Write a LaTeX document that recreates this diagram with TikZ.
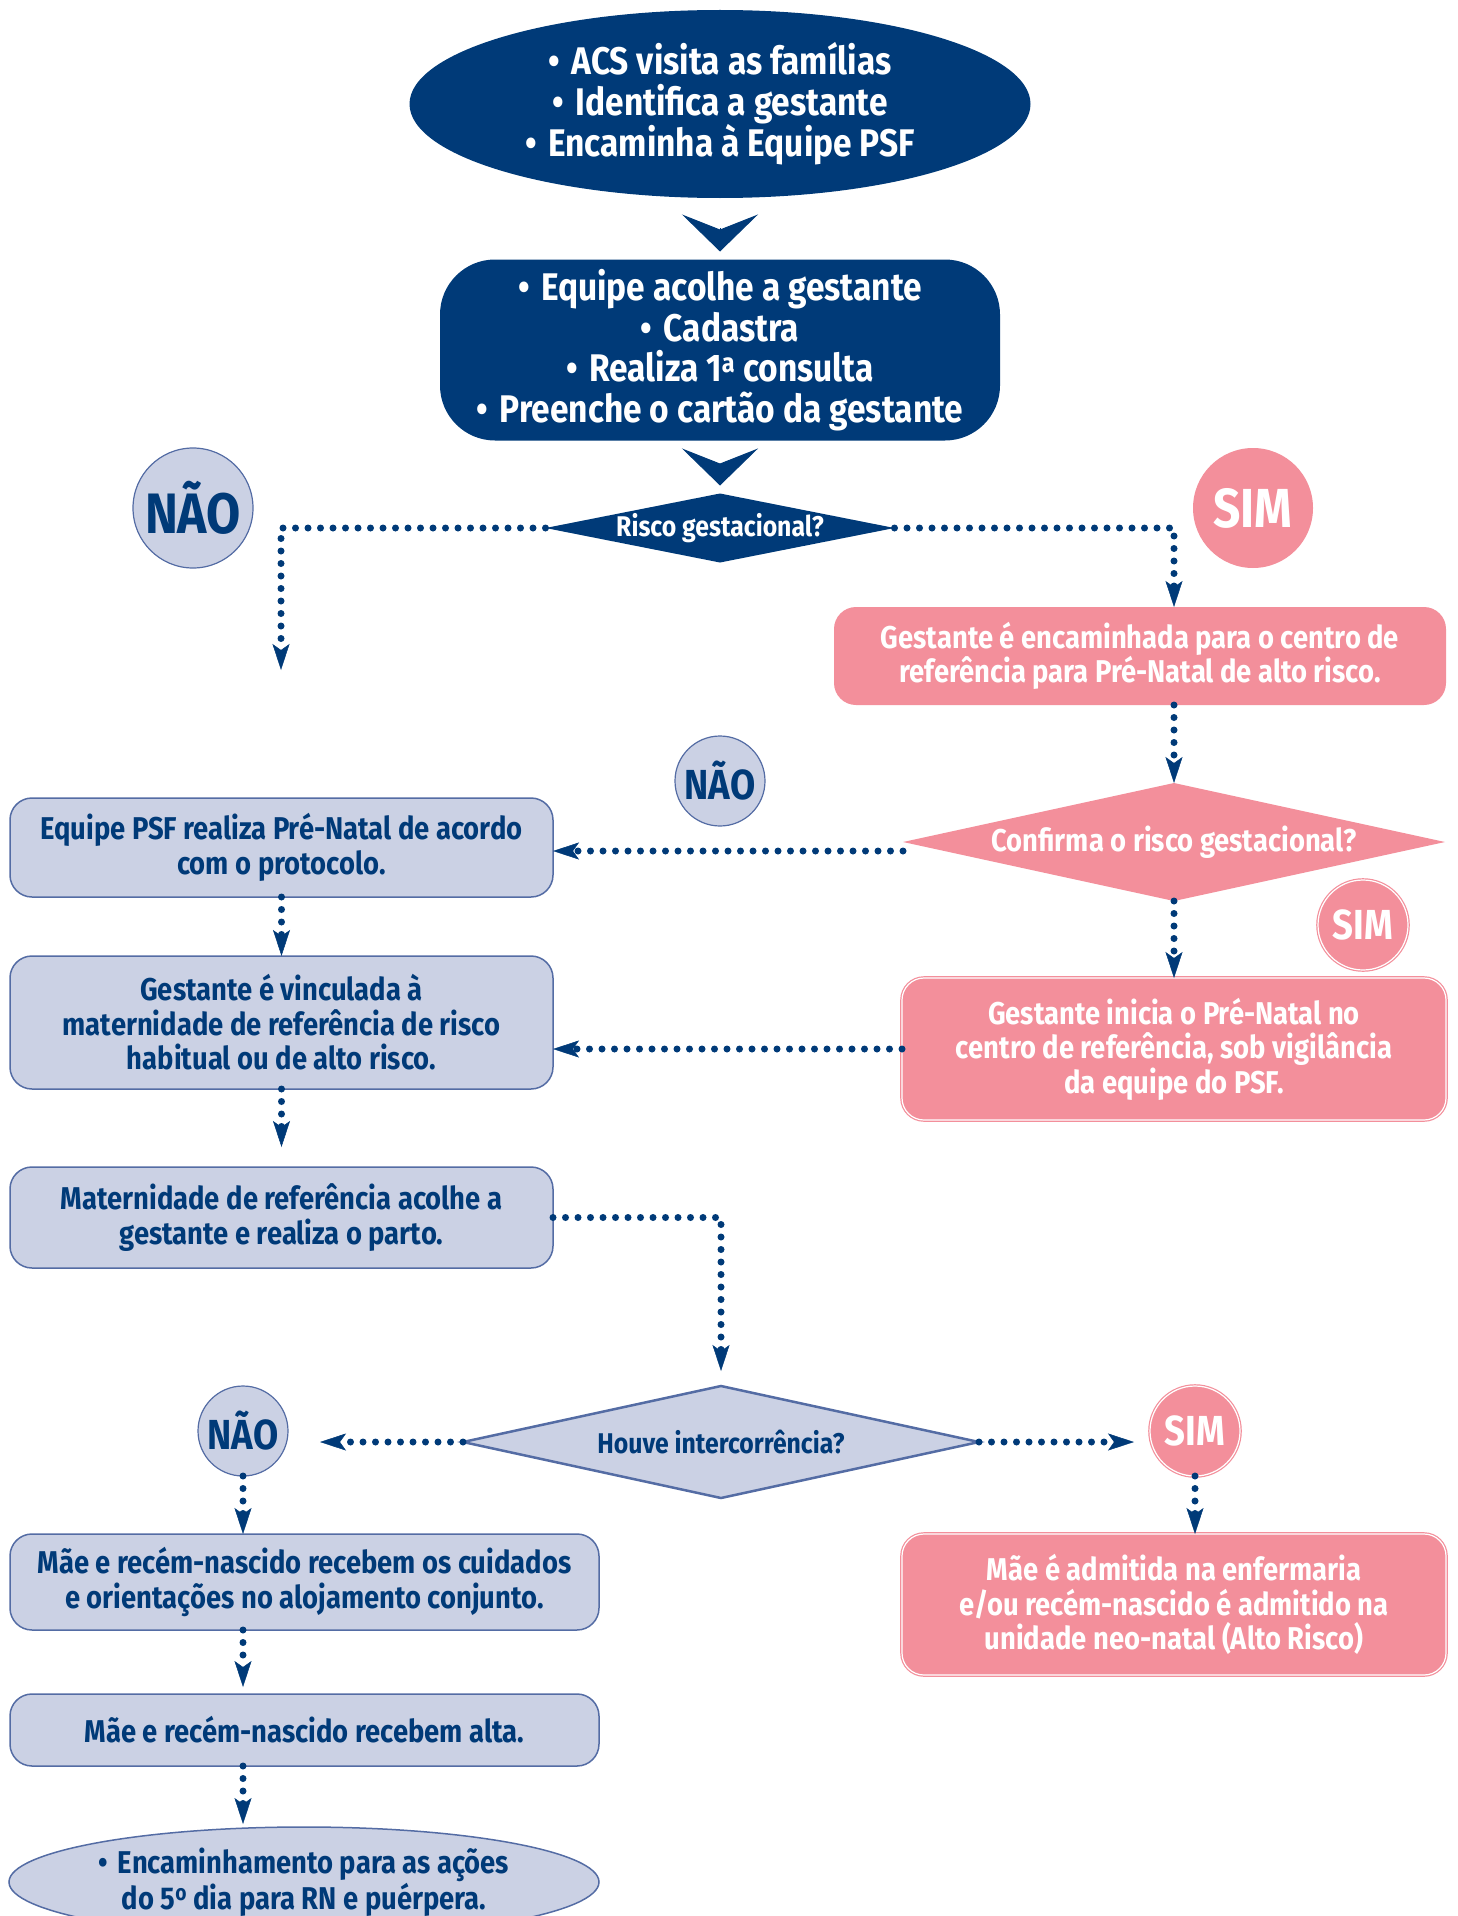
\documentclass[tikz,border=0pt]{standalone}
\usepackage{fontspec}
\setmainfont{Fira Sans}[FakeStretch=0.87]
\usepackage{xcolor}
\usetikzlibrary{shapes.geometric,arrows.meta}
\definecolor{mynavy}{RGB}{0,58,120}
\definecolor{mylilac}{RGB}{203,209,228}
\definecolor{mylilacline}{RGB}{84,108,164}
\definecolor{mypink}{RGB}{243,143,155}
\newcommand{\blt}{•\hspace{0.3em}}

\begin{document}
\begin{tikzpicture}[
		x=1pt, y=-1pt,
		every node/.style={inner sep=0pt, outer sep=0pt, align=center},
		bigtext/.style={font=\bfseries\fontsize{38.5}{40.5}\selectfont},
		boxtext/.style={font=\bfseries\fontsize{31.5}{34.5}\selectfont},
		navyell/.style={ellipse, fill=mynavy, text=white, bigtext},
		navybox/.style={rectangle, rounded corners=55pt, fill=mynavy, text=white, bigtext},
		lilacbox/.style={rectangle, rounded corners=22pt, fill=mylilac, draw=mylilacline, line width=1.5pt, text=mynavy, boxtext},
		pinkbox/.style={rectangle, rounded corners=22pt, fill=mypink, text=white, boxtext},
		pinkring/.style={draw=mypink, double=white, double distance=1.2pt, line width=1.2pt},
		decision/.style={diamond, boxtext},
		simcirc/.style={circle, fill=mypink, text=white},
		naocirc/.style={circle, fill=mylilac, draw=mylilacline, line width=1.2pt, text=mynavy},
		dotflow/.style={draw=mynavy, line width=7pt, line cap=round, dash pattern=on 0pt off 12.5pt, -{Stealth[length=26pt, width=17pt, inset=6pt, line width=0.5pt]}},
		chevron/.style={draw=mynavy, line width=1pt, shorten <=30pt, shorten >=8pt, -{Stealth[length=37pt, width=76pt, inset=15pt]}}
	]
	\useasboundingbox (0,0) rectangle (1457,1916);
	
	% Top
	\node[navyell, minimum width=621pt, minimum height=188pt] (acs) at (720,104) {\blt ACS visita as famílias\\\blt Identifica a gestante\\\blt Encaminha à Equipe PSF};
	\node[navybox, minimum width=560pt, minimum height=181pt] (acolhe) at (720,350) {\blt Equipe acolhe a gestante\\\blt Cadastra\\\blt Realiza 1\textsuperscript{a} consulta\\\blt Preenche o cartão da gestante};
	\node[decision, fill=mynavy, text=white, minimum width=349pt, minimum height=69pt, font=\bfseries\fontsize{28.5}{30}\selectfont] (risco) at (720,528) {\makebox[0pt]{Risco gestacional?}};
	\node[naocirc, minimum size=120pt, font=\bfseries\fontsize{57}{57}\selectfont] (nao1) at (193,508) {NÃO};
	\node[simcirc, minimum size=120pt, font=\bfseries\fontsize{55}{55}\selectfont] (sim1) at (1253,508) {SIM};
	
	% Right column
	\node[pinkbox, minimum width=612pt, minimum height=98pt] (encam) at (1140,656) {Gestante é encaminhada para o centro de\\referência para Pré-Natal de alto risco.};
	\node[decision, fill=mypink, text=white, minimum width=542pt, minimum height=118pt] (confirma) at (1174,842) {\makebox[0pt]{Confirma o risco gestacional?}};
	\node[naocirc, minimum size=90pt, font=\bfseries\fontsize{42}{42}\selectfont] (nao2) at (720,781) {NÃO};
	\node[simcirc, pinkring, minimum size=90pt, font=\bfseries\fontsize{42}{42}\selectfont] (sim2) at (1363,925) {SIM};
	\node[pinkbox, pinkring, minimum width=544pt, minimum height=142pt] (inicia) at (1174,1049) {Gestante inicia o Pré-Natal no\\centro de referência, sob vigilância\\da equipe do PSF.};
	
	% Left column
	\node[lilacbox, minimum width=543pt, minimum height=99pt] (psf) at (281.5,847.5) {Equipe PSF realiza Pré-Natal de acordo\\com o protocolo.};
	\node[lilacbox, minimum width=543pt, minimum height=133pt] (vinc) at (281.5,1022.5) {Gestante é vinculada à\\maternidade de referência de risco\\habitual ou de alto risco.};
	\node[lilacbox, minimum width=543pt, minimum height=101pt] (mat) at (281.5,1217.5) {Maternidade de referência acolhe a\\gestante e realiza o parto.};
	
	% Delivery
	\node[decision, fill=mylilac, draw=mylilacline, line width=2.5pt, text=mynavy, minimum width=516pt, minimum height=112pt, font=\bfseries\fontsize{28.5}{30}\selectfont] (houve) at (721,1442) {\makebox[0pt]{Houve intercorrência?}};
	\node[naocirc, minimum size=90pt, font=\bfseries\fontsize{42}{42}\selectfont] (nao3) at (243,1431) {NÃO};
	\node[simcirc, pinkring, minimum size=90pt, font=\bfseries\fontsize{42}{42}\selectfont] (sim3) at (1195,1431) {SIM};
	\node[lilacbox, minimum width=589pt, minimum height=96pt] (mae) at (304.5,1582) {Mãe e recém-nascido recebem os cuidados\\e orientações no alojamento conjunto.};
	\node[lilacbox, minimum width=589pt, minimum height=72pt] (alta) at (304.5,1730) {Mãe e recém-nascido recebem alta.};
	\node[ellipse, fill=mylilac, draw=mylilacline, line width=1.5pt, text=mynavy, boxtext, minimum width=590pt, minimum height=110pt] (quinto) at (304,1882) {\blt Encaminhamento para as ações\\do 5\textsuperscript{o} dia para RN e puérpera.};
	\node[pinkbox, pinkring, minimum width=544pt, minimum height=141pt] (admit) at (1174,1604.5) {Mãe é admitida na enfermaria\\e/ou recém-nascido é admitido na\\unidade neo-natal (Alto Risco)};
	
	% Connectors
	\draw[chevron] (acs.south) -- (acolhe.north);
	\draw[chevron] (acolhe.south) -- (risco.north);
	\coordinate (naoend) at (281,670);
	\draw[dotflow] (risco.west) -| (naoend);
	\draw[dotflow] (risco.east) -| (confirma.north |- encam.north);
	\draw[dotflow] (confirma.north |- encam.south) -- (confirma.north);
	\draw[dotflow] ([yshift=-9pt]confirma.west) -- ([yshift=-9pt]confirma.west -| psf.east);
	\draw[dotflow] (confirma.south) -- (inicia.north);
	\draw[dotflow] (inicia.west) -- (inicia.west -| vinc.east);
	\draw[dotflow] (psf.south) -- (vinc.north);
	\draw[dotflow, shorten >=20pt] (vinc.south) -- (mat.north);
	\draw[dotflow, shorten >=15pt] (mat.east) -| (houve.north);
	\draw[dotflow, shorten >=32pt] (houve.west) -- (houve.west -| nao3.east);
	\draw[dotflow, shorten >=16pt] (houve.east) -- (houve.east -| sim3.west);
	\draw[dotflow] (nao3.south) -- (nao3.south |- mae.north);
	\draw[dotflow, shorten >=7pt] (nao3.south |- mae.south) -- (nao3.south |- alta.north);
	\draw[dotflow, shorten >=3pt] (nao3.south |- alta.south) -- (nao3.south |- quinto.north);
	\draw[dotflow] (sim3.south) -- (sim3.south |- admit.north);
\end{tikzpicture}
\end{document}
